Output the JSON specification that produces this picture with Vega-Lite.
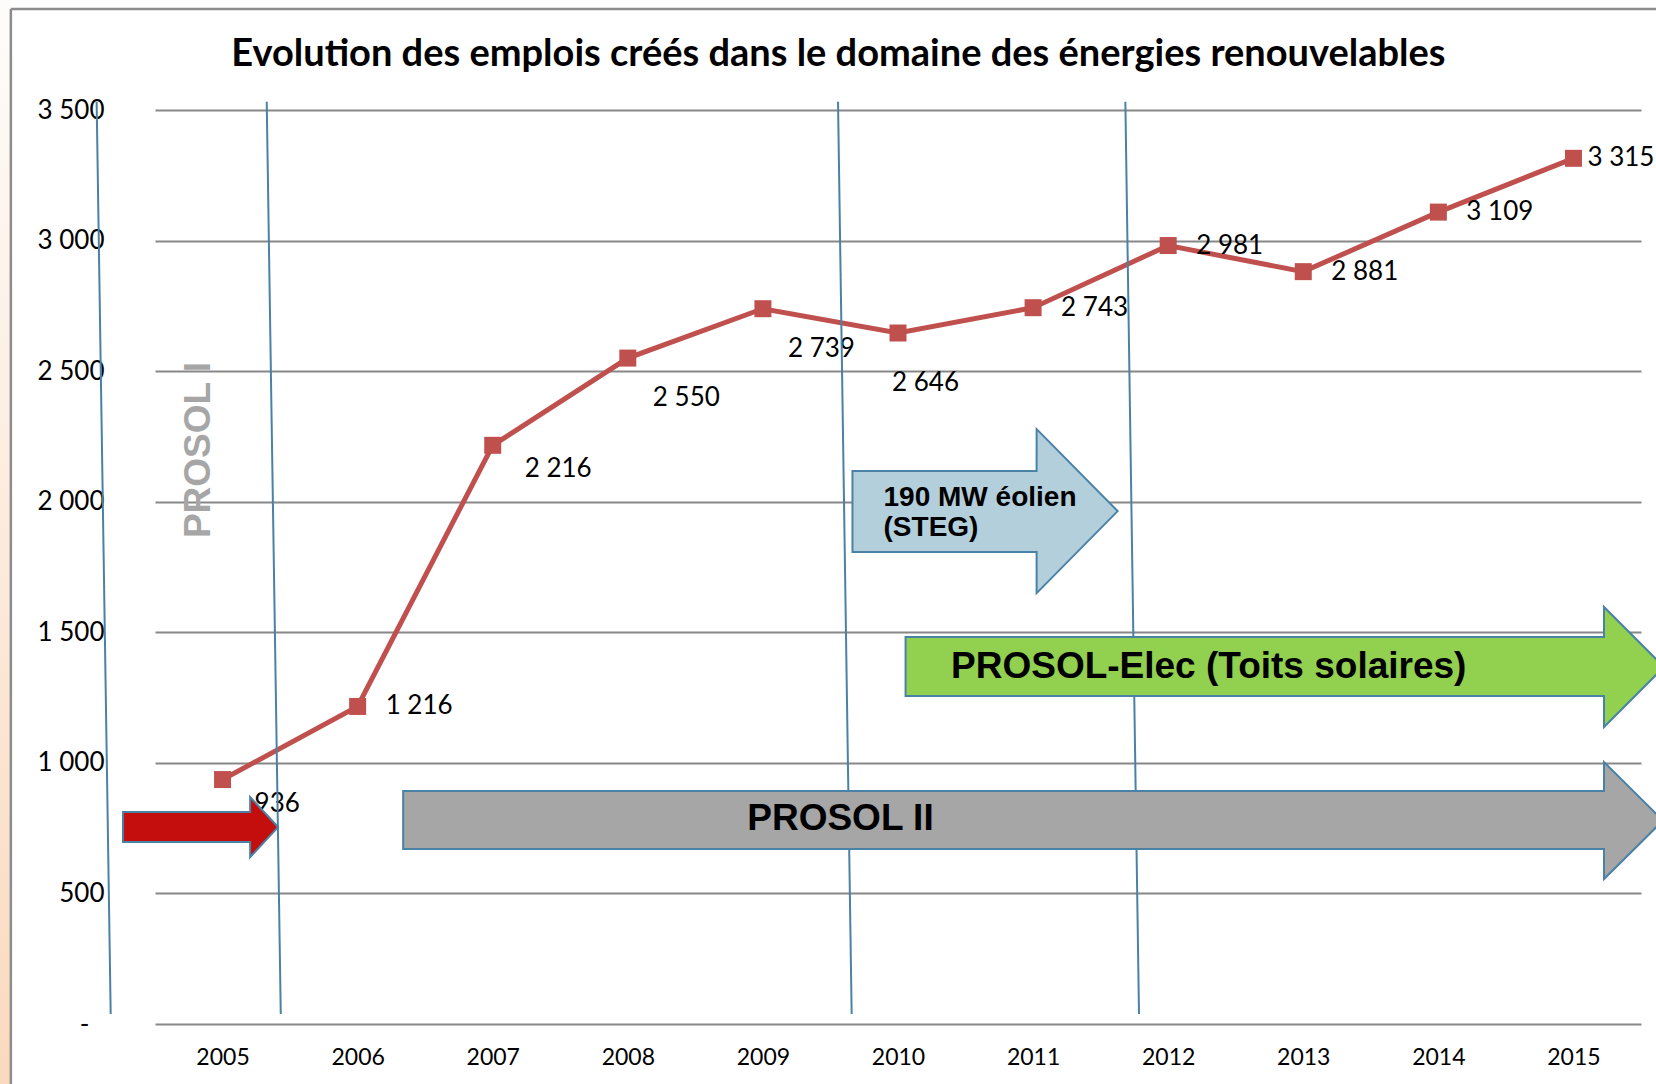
{
  "$schema": "https://vega.github.io/schema/vega-lite/v6.json",
  "width": 1486,
  "height": 914,
  "autosize": {"type": "none"},
  "padding": {"left": 155, "top": 110, "right": 15, "bottom": 60},
  "background": "white",
  "config": {
    "locale": {"number": {"decimal": ",", "thousands": "\u00a0", "grouping": [3], "currency": ["", " €"]}},
    "view": {"stroke": null},
    "font": "Lato"
  },
  "datasets": {
    "emplois": [
      {"annee": 2005, "emplois": 936},
      {"annee": 2006, "emplois": 1216},
      {"annee": 2007, "emplois": 2216},
      {"annee": 2008, "emplois": 2550},
      {"annee": 2009, "emplois": 2739},
      {"annee": 2010, "emplois": 2646},
      {"annee": 2011, "emplois": 2743},
      {"annee": 2012, "emplois": 2981},
      {"annee": 2013, "emplois": 2881},
      {"annee": 2014, "emplois": 3109},
      {"annee": 2015, "emplois": 3315}
    ],
    "lignes": [
      {"x1": 2004.068, "y1": 3532, "x2": 2004.172, "y2": 38},
      {"x1": 2005.327, "y1": 3532, "x2": 2005.431, "y2": 38},
      {"x1": 2009.556, "y1": 3532, "x2": 2009.657, "y2": 38},
      {"x1": 2011.683, "y1": 3532, "x2": 2011.784, "y2": 38}
    ],
    "fleches": [
      {"fleche": "rouge", "x": 2004.263, "bas": 697, "haut": 812},
      {"fleche": "rouge", "x": 2005.204, "bas": 697, "haut": 812},
      {"fleche": "rouge", "x": 2005.2042, "bas": 639, "haut": 869},
      {"fleche": "rouge", "x": 2005.411, "bas": 754, "haut": 754},
      {"fleche": "bleu", "x": 2009.663, "bas": 1807, "haut": 2118},
      {"fleche": "bleu", "x": 2011.026, "bas": 1807, "haut": 2118},
      {"fleche": "bleu", "x": 2011.0262, "bas": 1650, "haut": 2278},
      {"fleche": "bleu", "x": 2011.626, "bas": 1964, "haut": 1964},
      {"fleche": "vert", "x": 2010.056, "bas": 1256, "haut": 1482},
      {"fleche": "vert", "x": 2015.226, "bas": 1256, "haut": 1482},
      {"fleche": "vert", "x": 2015.2262, "bas": 1137, "haut": 1597},
      {"fleche": "vert", "x": 2015.67, "bas": 1367, "haut": 1367},
      {"fleche": "gris", "x": 2006.337, "bas": 670, "haut": 892},
      {"fleche": "gris", "x": 2015.226, "bas": 670, "haut": 892},
      {"fleche": "gris", "x": 2015.2262, "bas": 555, "haut": 1003},
      {"fleche": "gris", "x": 2015.663, "bas": 779, "haut": 779}
    ]
  },
  "encoding": {
    "x": {
      "type": "quantitative",
      "scale": {"domain": [2004.5, 2015.5], "nice": false, "zero": false},
      "axis": {
        "values": [2005, 2006, 2007, 2008, 2009, 2010, 2011, 2012, 2013, 2014, 2015],
        "format": "d",
        "title": null,
        "grid": false,
        "domain": false,
        "ticks": false,
        "labelFont": "Lato",
        "labelFontSize": 23,
        "labelColor": "#000000",
        "labelPadding": 22,
        "labelFlush": false,
        "labelOverlap": false,
        "labelBound": false
      }
    },
    "y": {
      "type": "quantitative",
      "scale": {"domain": [0, 3500], "nice": false, "zero": true},
      "axis": {
        "values": [0, 500, 1000, 1500, 2000, 2500, 3000, 3500],
        "format": ",d",
        "labelExpr": "datum.value === 0 ? '-' : datum.label",
        "title": null,
        "grid": true,
        "gridColor": "#888888",
        "gridWidth": 2,
        "domain": false,
        "ticks": false,
        "labelFont": "Lato",
        "labelFontSize": 26,
        "labelColor": "#000000",
        "labelPadding": {"condition": {"test": "datum.value === 0", "value": 66}, "value": 51},
        "labelBaseline": "middle"
      }
    }
  },
  "layer": [
    {
      "data": {"values": [{}]},
      "mark": {
        "type": "rect",
        "clip": false,
        "color": {"gradient": "linear", "x1": 0, "y1": 0, "x2": 0, "y2": 1, "stops": [{"offset": 0, "color": "#fefcfa"}, {"offset": 1, "color": "#fad9bd"}]}
      },
      "encoding": {
        "x": {"datum": 2003.35},
        "x2": {"datum": 2003.433},
        "y": {"datum": -300},
        "y2": {"datum": 3921}
      }
    },
    {
      "data": {"values": [{}]},
      "mark": {"type": "rule", "clip": false, "color": "#8c8c8c", "strokeWidth": 2.5},
      "encoding": {
        "x": {"datum": 2003.433},
        "y": {"datum": -300},
        "y2": {"datum": 3887}
      }
    },
    {
      "data": {"values": [{}]},
      "mark": {"type": "rule", "clip": false, "color": "#8c8c8c", "strokeWidth": 2.5},
      "encoding": {
        "x": {"datum": 2003.433},
        "x2": {"datum": 2016.5},
        "y": {"datum": 3887}
      }
    },
    {
      "data": {"values": [{"titre": "Evolution des emplois créés dans le domaine des énergies renouvelables"}]},
      "mark": {"type": "text", "clip": false, "align": "center", "baseline": "alphabetic", "font": "Lato", "fontWeight": "bold", "fontSize": 38, "color": "#000000"},
      "encoding": {
        "x": {"datum": 2009.559},
        "y": {"datum": 3668},
        "text": {"field": "titre"}
      }
    },
    {
      "data": {"name": "emplois"},
      "mark": {"type": "line", "color": "#c0504d", "strokeWidth": 5},
      "encoding": {
        "x": {"field": "annee", "type": "quantitative"},
        "y": {"field": "emplois", "type": "quantitative"}
      }
    },
    {
      "data": {"name": "emplois"},
      "mark": {"type": "point", "shape": "square", "filled": true, "size": 289, "color": "#c0504d", "opacity": 1},
      "encoding": {
        "x": {"field": "annee", "type": "quantitative"},
        "y": {"field": "emplois", "type": "quantitative"}
      }
    },
    {
      "data": {"name": "emplois"},
      "transform": [{"filter": {"field": "annee", "oneOf": [2006, 2011, 2012, 2013, 2014]}}],
      "mark": {"type": "text", "align": "left", "baseline": "middle", "dx": 28, "dy": 0, "font": "Lato", "fontSize": 26, "color": "#000000"},
      "encoding": {
        "x": {"field": "annee", "type": "quantitative"},
        "y": {"field": "emplois", "type": "quantitative"},
        "text": {"field": "emplois", "type": "quantitative", "format": ",d"}
      }
    },
    {
      "data": {"name": "emplois"},
      "transform": [{"filter": {"field": "annee", "oneOf": [2015]}}],
      "mark": {"type": "text", "align": "left", "baseline": "middle", "dx": 14, "dy": 0, "font": "Lato", "fontSize": 26, "color": "#000000"},
      "encoding": {
        "x": {"field": "annee", "type": "quantitative"},
        "y": {"field": "emplois", "type": "quantitative"},
        "text": {"field": "emplois", "type": "quantitative", "format": ",d"}
      }
    },
    {
      "data": {"name": "emplois"},
      "transform": [{"filter": {"field": "annee", "oneOf": [2005, 2007]}}],
      "mark": {"type": "text", "align": "left", "baseline": "middle", "dx": 32, "dy": 24, "font": "Lato", "fontSize": 26, "color": "#000000"},
      "encoding": {
        "x": {"field": "annee", "type": "quantitative"},
        "y": {"field": "emplois", "type": "quantitative"},
        "text": {"field": "emplois", "type": "quantitative", "format": ",d"}
      }
    },
    {
      "data": {"name": "emplois"},
      "transform": [{"filter": {"field": "annee", "oneOf": [2008, 2009]}}],
      "mark": {"type": "text", "align": "left", "baseline": "middle", "dx": 25, "dy": 40, "font": "Lato", "fontSize": 26, "color": "#000000"},
      "encoding": {
        "x": {"field": "annee", "type": "quantitative"},
        "y": {"field": "emplois", "type": "quantitative"},
        "text": {"field": "emplois", "type": "quantitative", "format": ",d"}
      }
    },
    {
      "data": {"name": "emplois"},
      "transform": [{"filter": {"field": "annee", "oneOf": [2010]}}],
      "mark": {"type": "text", "align": "left", "baseline": "middle", "dx": -6, "dy": 50, "font": "Lato", "fontSize": 26, "color": "#000000"},
      "encoding": {
        "x": {"field": "annee", "type": "quantitative"},
        "y": {"field": "emplois", "type": "quantitative"},
        "text": {"field": "emplois", "type": "quantitative", "format": ",d"}
      }
    },
    {
      "data": {"name": "lignes"},
      "mark": {"type": "rule", "clip": false, "color": "#4a82a6", "strokeWidth": 2},
      "encoding": {
        "x": {"field": "x1", "type": "quantitative"},
        "y": {"field": "y1", "type": "quantitative"},
        "x2": {"field": "x2"},
        "y2": {"field": "y2"}
      }
    },
    {
      "data": {"name": "fleches"},
      "mark": {"type": "area", "clip": false, "stroke": "#4a82a6", "strokeWidth": 2, "opacity": 1, "fillOpacity": 1, "interpolate": "linear"},
      "encoding": {
        "x": {"field": "x", "type": "quantitative"},
        "y": {"field": "bas", "type": "quantitative", "stack": null},
        "y2": {"field": "haut"},
        "color": {
          "field": "fleche",
          "type": "nominal",
          "scale": {"domain": ["rouge", "bleu", "vert", "gris"], "range": ["#c40e0e", "#b4cfdc", "#92d050", "#a6a6a6"]},
          "legend": null
        }
      }
    },
    {
      "data": {"values": [{"texte": "PROSOL I", "x": 2004.826, "y": 2198}]},
      "mark": {"type": "text", "angle": 270, "align": "center", "baseline": "middle", "font": "Liberation Sans", "fontWeight": "bold", "fontSize": 37, "color": "#a6a6a6"},
      "encoding": {
        "x": {"field": "x", "type": "quantitative"},
        "y": {"field": "y", "type": "quantitative"},
        "text": {"field": "texte"}
      }
    },
    {
      "data": {"values": [
        {"texte": "PROSOL II", "x": 2009.574, "y": 785},
        {"texte": "PROSOL-Elec (Toits solaires)", "x": 2012.3, "y": 1367}
      ]},
      "mark": {"type": "text", "align": "center", "baseline": "middle", "font": "Liberation Sans", "fontWeight": "bold", "fontSize": 37, "color": "#000000"},
      "encoding": {
        "x": {"field": "x", "type": "quantitative"},
        "y": {"field": "y", "type": "quantitative"},
        "text": {"field": "texte"}
      }
    },
    {
      "data": {"values": [
        {"texte": "190 MW éolien", "x": 2009.893, "y": 2014},
        {"texte": "(STEG)", "x": 2009.893, "y": 1899}
      ]},
      "mark": {"type": "text", "align": "left", "baseline": "middle", "font": "Liberation Sans", "fontWeight": "bold", "fontSize": 28, "color": "#000000"},
      "encoding": {
        "x": {"field": "x", "type": "quantitative"},
        "y": {"field": "y", "type": "quantitative"},
        "text": {"field": "texte"}
      }
    }
  ]
}
